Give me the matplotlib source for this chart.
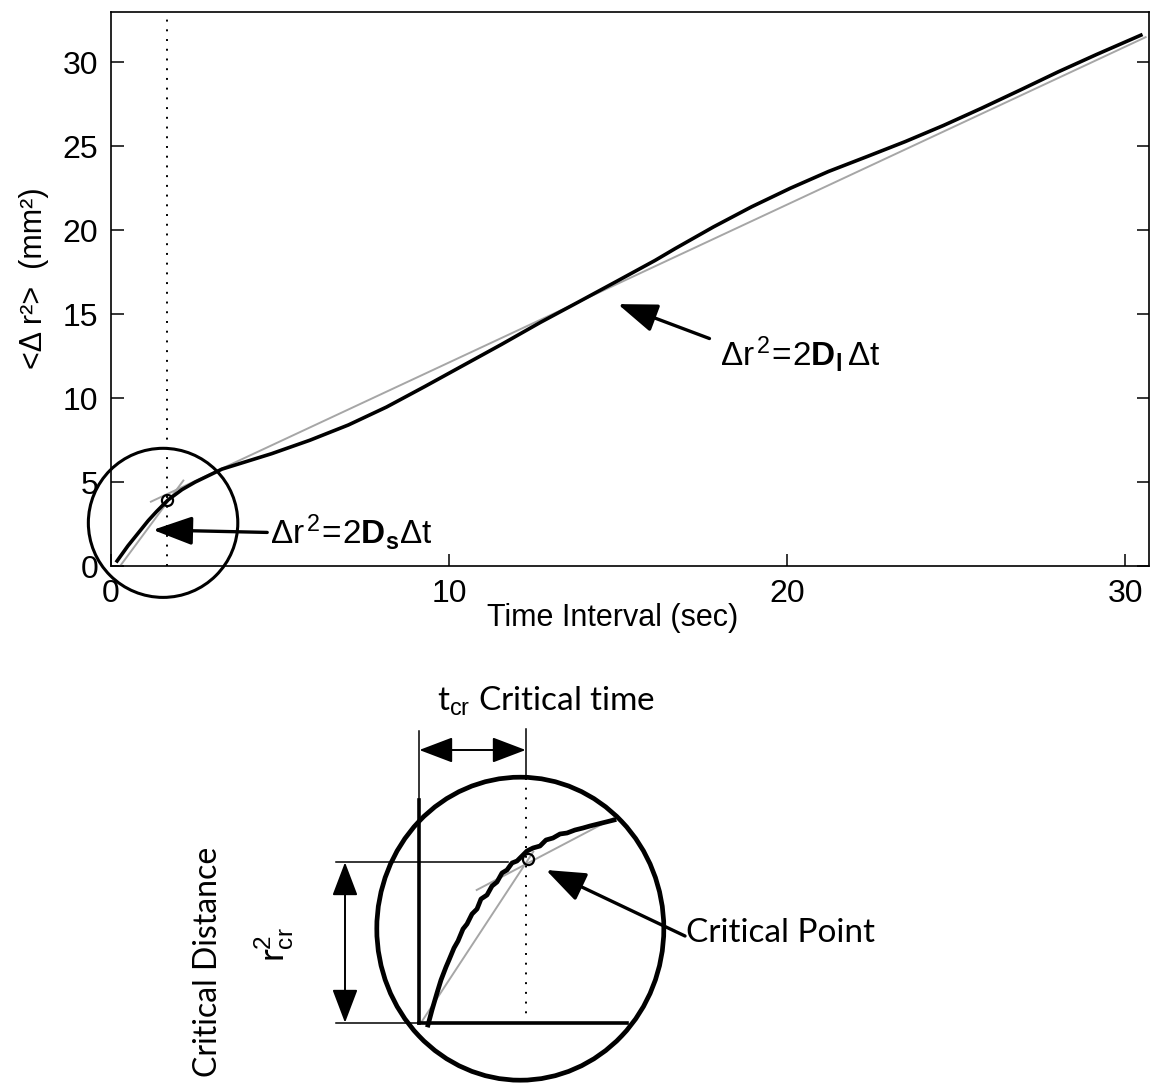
import matplotlib
matplotlib.use("Agg")
import matplotlib.pyplot as plt
from matplotlib.patches import Ellipse, FancyArrowPatch

# mean squared displacement vs time interval
t_msd = [0.18, 0.5, 0.78, 1.1, 1.35, 1.69, 2.1, 2.49, 3.28, 4.75, 5.88, 7.02, 8.15,
         9.28, 10.41, 11.55, 12.69, 13.82, 14.95, 16.09, 16.68, 17.82, 18.95,
         20.09, 21.22, 22.35, 23.49, 24.62, 25.75, 26.89, 28.02, 29.15, 30.46]
msd = [0.3, 1.2, 1.9, 2.7, 3.25, 3.94, 4.55, 5.0, 5.77, 6.69, 7.49, 8.40, 9.47,
       10.69, 11.94, 13.2, 14.5, 15.72, 16.95, 18.2, 18.9, 20.2, 21.4,
       22.5, 23.5, 24.38, 25.28, 26.24, 27.27, 28.35, 29.44, 30.47, 31.62]

# linear fits: short-time (D_s) and long-time (D_l)
t_short = [0.27, 2.14]
r_short = [0.0, 5.09]
t_long = [1.18, 30.6]
r_long = [3.83, 31.5]

# crossover of the two regimes
t_cr = 1.67
r_cr = 3.94

xticks = [0, 10, 20, 30]
yticks = [0, 5, 10, 15, 20, 25, 30]

# enlarged sketch of the crossover region (in sketch units)
sketch_x = [428, 432, 437, 441, 446, 449, 454, 458, 463, 467, 472, 477, 481, 487,
            492, 497, 502, 507, 512, 517, 522, 527, 533, 540, 546, 553, 560, 567,
            575, 583, 590, 598, 606, 614]
sketch_y = [1025, 1010, 993, 980, 967, 960, 948, 941, 929, 924, 914, 909, 899, 895,
            886, 882, 873, 870, 863, 861, 856, 851, 848, 846, 840, 838, 834, 833,
            830, 828, 826, 824, 822, 820]
sketch_fit1_x = [421.7, 533.3]
sketch_fit1_y = [1021.7, 851.7]
sketch_fit2_x = [476.7, 613.3]
sketch_fit2_y = [890.0, 818.3]
sketch_cp = (528, 859)

plt.rcParams['font.family'] = ['Liberation Sans', 'DejaVu Sans']
plt.rcParams['mathtext.fontset'] = 'custom'
plt.rcParams['mathtext.rm'] = 'Liberation Sans'
plt.rcParams['mathtext.bf'] = 'Liberation Sans:bold'
plt.rcParams['mathtext.it'] = 'Liberation Sans:italic'

W, H = 1161, 1086
fig = plt.figure(figsize=(W / 100, H / 100), dpi=100)

# sketch panel lives in figure pixel units
sk = fig.add_axes([0, 0, 1, 1])
sk.set_xlim(0, W)
sk.set_ylim(H, 0)
sk.axis('off')

ax = fig.add_axes([111 / W, 1 - 566 / H, 1038 / W, 554 / H])
ax.plot(t_short, r_short, color='0.65', lw=1.4, zorder=2)
ax.plot(t_long, r_long, color='0.65', lw=1.4, zorder=2)
ax.plot(t_msd, msd, color='black', lw=2.6, zorder=3, solid_joinstyle='round')
ax.plot([t_cr], [r_cr], 'o', ms=8, mfc='none', mec='black', mew=1.6, zorder=4)
ax.axvline(t_cr, color='black', lw=1.4, ls=(0, (1, 4)), zorder=1)

ax.add_patch(Ellipse((1.54, 2.57), 4.42, 8.88, fill=False, lw=2.2,
                     ec='black', clip_on=False, zorder=5))

ax.set_xlim(0, 30.7)
ax.set_ylim(0, 33)
ax.set_xticks(xticks)
ax.set_yticks(yticks)
ax.tick_params(direction='in', length=9, width=1.1, labelsize=23)
ax.tick_params(axis='y', right=True, pad=9)
ax.tick_params(axis='x', pad=9)
for s in ax.spines.values():
    s.set_linewidth(1.2)

ax.set_xlabel('Time Interval (sec)', fontsize=22)
ax.xaxis.set_label_coords(0.483, -0.066)
ax.set_ylabel('<Δ r²>  (mm²)', fontsize=22)
ax.yaxis.set_label_coords(-0.06, 0.52)

eq_s = r'$\Delta\mathrm{r}^{\,2}\!=\!\mathrm{2}\mathbf{D}_{\mathbf{s}}\Delta\mathrm{t}$'
eq_l = r'$\Delta\mathrm{r}^{\,2}\!=\!\mathrm{2}\mathbf{D}_{\mathbf{l}}\,\Delta\mathrm{t}$'

arrow_style = '-|>,head_length=1.1,head_width=0.4'
ax.add_patch(FancyArrowPatch((4.62, 2.0), (1.24, 2.15), arrowstyle=arrow_style,
                             mutation_scale=22, lw=2.4, color='black',
                             shrinkA=0, shrinkB=0, clip_on=False, zorder=6))
ax.text(4.7, 2.0, eq_s, fontsize=24, ha='left', va='center')
ax.add_patch(FancyArrowPatch((17.7, 13.55), (14.99, 15.6), arrowstyle=arrow_style,
                             mutation_scale=22, lw=2.4, color='black',
                             shrinkA=0, shrinkB=0, zorder=6))
ax.text(18.0, 12.65, eq_l, fontsize=24, ha='left', va='center')

# ---- enlarged crossover sketch ----
lab_font = ['Lato', 'DejaVu Sans']
sk.add_patch(Ellipse((520.3, 928.7), 287, 303, fill=False, lw=3.4, ec='black'))
sk.plot(sketch_fit1_x, sketch_fit1_y, color='0.65', lw=1.4, zorder=2)
sk.plot(sketch_fit2_x, sketch_fit2_y, color='0.65', lw=1.4, zorder=2)
sk.plot(sketch_x, sketch_y, color='black', lw=3.4, zorder=3, solid_joinstyle='round')
sk.plot(*sketch_cp, 'o', ms=8, mfc='none', mec='black', mew=1.6, zorder=4)

# guide lines
sk.plot([419.3, 419.3], [731, 1022.7], color='black', lw=1.1)
sk.plot([419.3, 419.3], [800, 1022.7], color='black', lw=2.6)
sk.plot([525.7, 525.7], [729, 778], color='black', lw=1.1)
sk.plot([525.7, 525.7], [778, 1017], color='black', lw=1.4, ls=(0, (1, 4)))
sk.plot([336, 508], [862.3, 862.3], color='black', lw=1.1)
sk.plot([336, 419.3], [1022.7, 1022.7], color='black', lw=1.1)
sk.plot([419.3, 626.7], [1022.7, 1022.7], color='black', lw=2.6)

dbl = '<|-|>,head_length=1.0,head_width=0.38'
sk.add_patch(FancyArrowPatch((419.3, 750), (525.7, 750), arrowstyle=dbl,
                             mutation_scale=21, lw=1.4, color='black',
                             shrinkA=0, shrinkB=0))
sk.add_patch(FancyArrowPatch((345, 862.3), (345, 1022.7), arrowstyle=dbl,
                             mutation_scale=21, lw=1.4, color='black',
                             shrinkA=0, shrinkB=0))
sk.add_patch(FancyArrowPatch((685, 936), (546, 870),
                             arrowstyle='-|>,head_length=1.1,head_width=0.42',
                             mutation_scale=22, lw=2.4, color='black',
                             shrinkA=0, shrinkB=0))

sk.text(546, 701, r't$_{\mathrm{cr}}$ Critical time', fontsize=24, family=lab_font,
        ha='center', va='center')
sk.text(686, 933, 'Critical Point', fontsize=24, family=lab_font,
        ha='left', va='center')
sk.text(208, 962, 'Critical Distance', fontsize=23, family=lab_font,
        ha='center', va='center', rotation=90)
sk.text(274, 945, r'r$^{2}_{\mathrm{cr}}$', fontsize=25, family=lab_font,
        ha='center', va='center', rotation=90)

fig.savefig('out.png', dpi=100)
